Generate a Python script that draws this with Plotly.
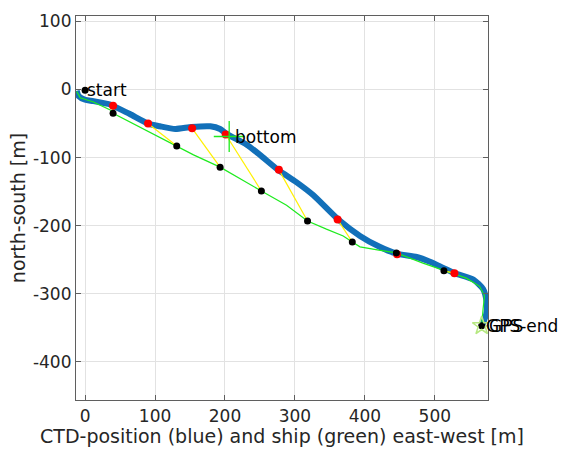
import plotly.graph_objects as go

# CTD track (blue)
ctd_x = [-12, -9, 0, 12, 36, 40, 64, 90, 107, 129, 152, 179, 193, 202, 231, 250, 276, 302, 326, 362, 393, 421, 445, 474, 493, 512, 529, 555, 569, 574, 574, 569, 567]
ctd_y = [-2, -10, -15, -17, -22, -24, -36, -50, -54, -58, -55, -54, -58, -65, -81, -96, -118, -136, -155, -191, -215, -231, -241, -246, -253, -262, -270, -279, -293, -312, -327, -343, -347]

# Ship track (green)
ship_x = [-12, -7, 11, 36, 40, 83, 107, 131, 155, 193, 221, 252, 288, 318, 345, 369, 382, 393, 420, 445, 483, 513, 545, 564, 571, 569, 567]
ship_y = [-3, -12, -18, -30, -35, -58, -70, -83, -96, -114, -131, -149, -170, -193, -205, -215, -224, -231, -236, -240, -255, -266, -277, -289, -303, -322, -347]

# Matched positions: CTD (red) and ship (black)
ctd_dot_x = [40, 90, 153, 201, 277, 361, 446, 528]
ctd_dot_y = [-24, -50, -57, -66, -118, -191, -242, -270]
ship_dot_x = [40, 131, 193, 252, 318, 382, 445, 513]
ship_dot_y = [-35, -83, -114, -149, -193, -224, -240, -266]

# Labelled points
start_x, start_y = [0], [-1]
bottom_x, bottom_y = [206], [-69]
end_x, end_y = [567], [-347]

x_ticks = [0, 100, 200, 300, 400, 500]
x_labels = ["0", "100", "200", "300", "400", "500"]
y_ticks = [-400, -300, -200, -100, 0, 100]
y_labels = ["-400", "-300", "-200", "-100", "0", "100"]

BLUE = "rgb(18,112,185)"
GREEN = "rgb(30,235,30)"
TXT = "#262626"

link_x, link_y = [], []
for a, b, c, d in zip(ctd_dot_x, ctd_dot_y, ship_dot_x, ship_dot_y):
    link_x += [a, c, None]
    link_y += [b, d, None]

fig = go.Figure()
fig.add_trace(go.Scatter(x=ctd_x, y=ctd_y, mode="lines",
                         line=dict(color=BLUE, width=6, shape="spline", smoothing=0.6)))
fig.add_trace(go.Scatter(x=ship_x, y=ship_y, mode="lines",
                         line=dict(color=GREEN, width=1.2)))
fig.add_trace(go.Scatter(x=link_x, y=link_y, mode="lines",
                         line=dict(color="rgb(255,240,0)", width=1.2)))
fig.add_trace(go.Scatter(x=ctd_dot_x, y=ctd_dot_y, mode="markers",
                         marker=dict(color="rgb(255,0,0)", size=8, line=dict(width=0))))
fig.add_trace(go.Scatter(x=ship_dot_x, y=ship_dot_y, mode="markers",
                         marker=dict(color="black", size=7, line=dict(width=0))))
fig.add_trace(go.Scatter(x=start_x + end_x, y=start_y + end_y, mode="markers",
                         marker=dict(color="black", size=7, line=dict(width=0))))
fig.add_trace(go.Scatter(x=bottom_x, y=bottom_y, mode="markers",
                         marker=dict(symbol="cross-thin", size=22, line=dict(color=GREEN, width=1.3))))
fig.add_trace(go.Scatter(x=end_x, y=end_y, mode="markers",
                         marker=dict(symbol="star-open", size=14, line=dict(color=GREEN, width=1.5))))

ann = dict(xref="x", yref="y", showarrow=False, xanchor="left", yanchor="middle",
           font=dict(family="DejaVu Sans", size=17, color="black"))
fig.add_annotation(x=start_x[0], y=start_y[0], text="start", xshift=0, **ann)
fig.add_annotation(x=bottom_x[0], y=bottom_y[0], text="bottom", xshift=4, **ann)
fig.add_annotation(x=end_x[0], y=end_y[0], text="GPS-end", xshift=2, **ann)
fig.add_annotation(x=end_x[0], y=end_y[0], text="GPS", xshift=5, **ann)

axis_common = dict(showgrid=True, gridcolor="rgb(226,226,226)", gridwidth=1,
                   zeroline=False, showline=True, linecolor="rgb(95,95,95)", linewidth=1.2,
                   mirror="ticks", ticks="inside", ticklen=5, tickcolor="rgb(95,95,95)",
                   tickfont=dict(family="DejaVu Sans", size=17, color=TXT))

fig.update_layout(
    width=563, height=453,
    margin=dict(l=76, r=75, t=13, b=46),
    plot_bgcolor="white", paper_bgcolor="white",
    showlegend=False,
    xaxis=dict(range=[-13, 576], tickvals=x_ticks, ticktext=x_labels,
               title=dict(text="CTD-position (blue) and ship (green) east-west [m]",
                          font=dict(family="DejaVu Sans", size=19, color=TXT), standoff=2),
               **axis_common),
    yaxis=dict(range=[-456, 108], tickvals=y_ticks, ticktext=y_labels,
               title=dict(text="north-south [m]",
                          font=dict(family="DejaVu Sans", size=19, color=TXT), standoff=2),
               **axis_common),
)

fig.write_html("out.html", config={"displayModeBar": False},
               post_script="document.body.style.margin='0';document.body.style.overflow='hidden';")
